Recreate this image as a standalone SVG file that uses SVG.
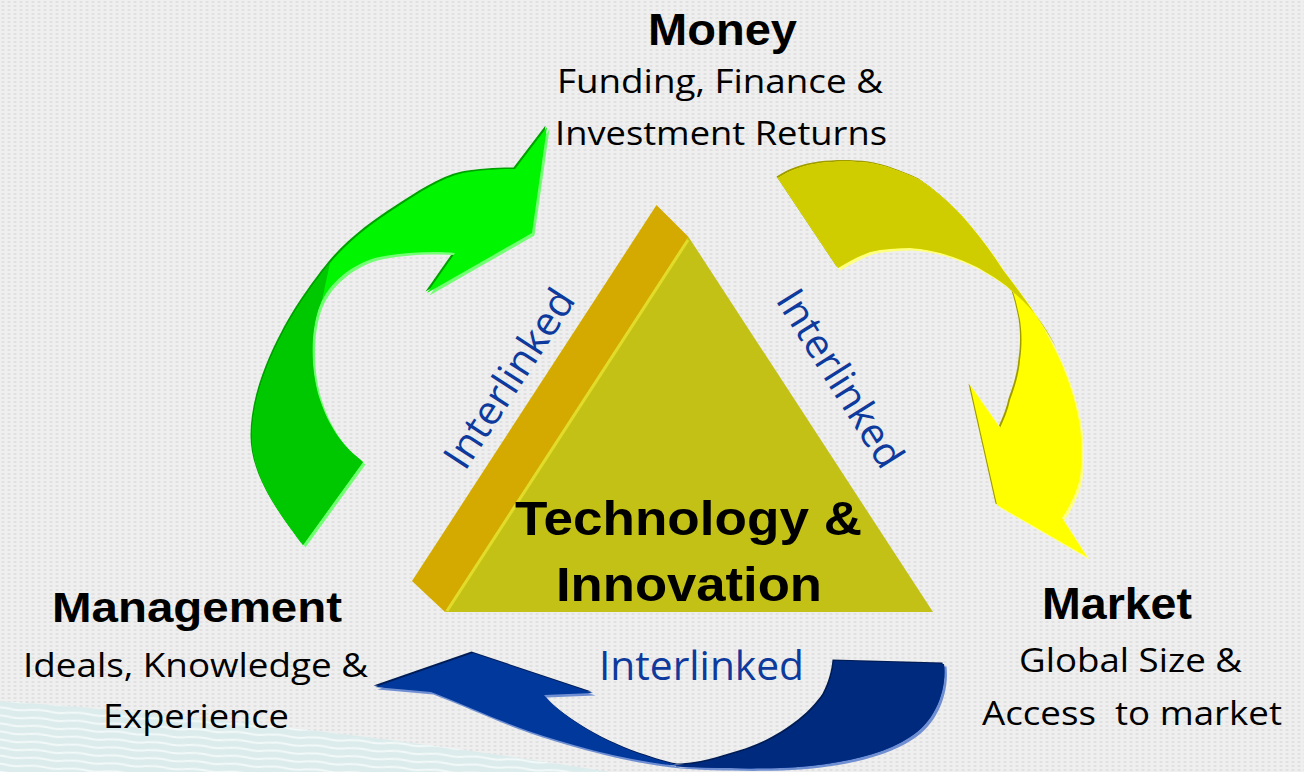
<svg xmlns="http://www.w3.org/2000/svg" width="1304" height="772" viewBox="0 0 1304 772">
<style>
.title{font-family:"Liberation Sans",Arial,sans-serif;font-weight:bold;fill:#000;}
.sub{font-family:"Open Sans","Noto Sans",sans-serif;fill:#000;font-size:33px;}
.link{font-family:"Open Sans","Noto Sans",sans-serif;fill:#0d3a9c;font-size:40px;}
</style>
<defs>
<pattern id="bgp" width="6" height="4" patternUnits="userSpaceOnUse">
<rect width="6" height="4" fill="#efefef"/>
<ellipse cx="3" cy="2" rx="1.8" ry="1.1" fill="#e0e0e0"/>
</pattern>
<pattern id="wave" width="40" height="8" patternUnits="userSpaceOnUse" patternTransform="rotate(4)">
<rect width="40" height="8" fill="#dcebeb"/>
<path d="M0,2 Q10,1 20,2.5 T40,2" stroke="#f3f9f9" stroke-width="2" fill="none"/>
</pattern>
<path id="g-arrow" d="M303,545 C285,520 252,480 252,437 C252,400 268,361 283,333 C297,306 317,279 330,263 C349,240 375,221 397,207 C417,194 441,178 463,173 C480,170 500,169 515,169 L547,127 L532,233 L427,293 L455,253 C435,251 400,252 375,258 C350,266 330,282 320,305 C310,330 310,370 320,400 C330,430 345,448 363,462 Z"/>
<path id="g-dark" d="M303,545 C285,520 252,480 252,437 C252,400 268,361 283,333 C297,306 317,279 330,263 L322,300 L320,305 C310,330 310,370 320,400 C330,430 345,448 363,462 Z"/>
<path id="y-arrow" d="M778,178 C790,170 805,165 820,163 C837,161 853,161 870,163 C887,166 903,172 920,180 C935,190 950,203 963,217 C977,233 991,251 1003,270 C1015,286 1026,300 1037,317 C1047,334 1056,350 1063,367 C1071,387 1077,407 1080,427 C1082,445 1082,461 1080,477 C1077,492 1070,506 1062,518 L1087,557 L997,505 L970,385 L1000,428 C1004,419 1008,410 1010,400 C1015,387 1019,373 1020,360 C1022,347 1022,333 1020,320 C1018,310 1016,301 1013,292 C1005,284 996,278 987,273 C976,266 965,261 953,257 C939,252 925,249 910,248 C897,248 883,249 870,252 C859,256 848,262 838,268 Z"/>
<path id="y-top" d="M778,178 C790,170 805,165 820,163 C837,161 853,161 870,163 C887,166 903,172 920,180 C935,190 950,203 963,217 C977,233 991,251 1003,270 C1015,286 1026,300 1037,317 C1044,328 1051,338 1057,349 Q1040,314 1013,292 C1005,284 996,278 987,273 C976,266 965,261 953,257 C939,252 925,249 910,248 C897,248 883,249 870,252 C859,256 848,262 838,268 Z"/>
<path id="b-arrow" d="M944,664 C947,690 935,722 910,737 C880,757 830,766 780,768 C745,769 705,768 678,766 C620,760 560,742 520,728 C495,719 460,703 431,692 L375,687 L473,653 L593,693 L544,695 C560,715 600,740 640,754 C655,759 668,763 678,765 C700,765 720,758 740,752 C780,740 810,716 824,695 C830,684 833,672 834,661 Z"/>
<path id="b-right" d="M676,765.5 C700,765 720,758 740,752 C780,740 810,716 824,695 C830,684 833,672 834,661 L944,664 C947,690 935,722 910,737 C880,757 830,766 780,768 C745,769 705,768 676,766.5 Z"/>
</defs>

<g id="background">
<rect width="1304" height="772" fill="url(#bgp)"/>
<path d="M0,701 Q300,722 610,772 L0,772 Z" fill="url(#wave)"/>
</g>

<g id="connectors">
<g id="arrow-management-money">
<use href="#g-arrow" transform="translate(-1.5,-1.5)" fill="#00a000"/>
<use href="#g-arrow" transform="translate(2.5,2.5)" fill="#73ff73"/>
<use href="#g-arrow" fill="#00f500"/>
<use href="#g-dark" fill="#00c800"/>
</g>
<g id="arrow-money-market">
<use href="#y-arrow" transform="translate(-1.5,-1.5)" fill="#a09c00"/>
<use href="#y-arrow" transform="translate(2.5,2.5)" fill="#ffff80"/>
<use href="#y-arrow" fill="#ffff00"/>
<use href="#y-top" fill="#cfcd00"/>
</g>
<g id="arrow-market-management">
<use href="#b-arrow" transform="translate(-1.5,-1.5)" fill="#001c55"/>
<use href="#b-arrow" transform="translate(2.5,2.5)" fill="#6f8fd2"/>
<use href="#b-arrow" fill="#00389c"/>
<use href="#b-right" fill="#002a7e"/>
</g>
<text class="link" transform="translate(465,472) rotate(-57)" textLength="205" lengthAdjust="spacingAndGlyphs">Interlinked</text>
<text class="link" transform="translate(775,300) rotate(58)" textLength="202" lengthAdjust="spacingAndGlyphs">Interlinked</text>
<text class="link" x="599" y="680" textLength="205" lengthAdjust="spacingAndGlyphs">Interlinked</text>
</g>

<g id="node-technology">
<polygon points="656.5,205 688.6,237 445,612 412,581" fill="#d4aa00"/>
<polygon points="688.6,237 933,612 445,612" fill="#c4c116"/>
<line x1="688" y1="240" x2="447" y2="611" stroke="#e2dc28" stroke-width="3"/>
<text class="title" x="515" y="535" font-size="49" textLength="347" lengthAdjust="spacingAndGlyphs">Technology &amp;</text>
<text class="title" x="556" y="601" font-size="49" textLength="266" lengthAdjust="spacingAndGlyphs">Innovation</text>
</g>

<g id="node-money">
<text class="title" x="648" y="45" font-size="45" textLength="149" lengthAdjust="spacingAndGlyphs">Money</text>
<text class="sub" x="557" y="93" textLength="326" lengthAdjust="spacingAndGlyphs">Funding, Finance &amp;</text>
<text class="sub" x="555" y="145" textLength="332" lengthAdjust="spacingAndGlyphs">Investment Returns</text>
</g>

<g id="node-management">
<text class="title" x="52" y="622" font-size="43" textLength="290" lengthAdjust="spacingAndGlyphs">Management</text>
<text class="sub" x="23" y="677" textLength="345" lengthAdjust="spacingAndGlyphs">Ideals, Knowledge &amp;</text>
<text class="sub" x="103" y="728" textLength="186" lengthAdjust="spacingAndGlyphs">Experience</text>
</g>

<g id="node-market">
<text class="title" x="1042" y="619" font-size="45" textLength="150" lengthAdjust="spacingAndGlyphs">Market</text>
<text class="sub" x="1019" y="672" textLength="223" lengthAdjust="spacingAndGlyphs">Global Size &amp;</text>
<text class="sub" x="982" y="725" textLength="300" lengthAdjust="spacingAndGlyphs" style="white-space:pre">Access  to market</text>
</g>
</svg>
